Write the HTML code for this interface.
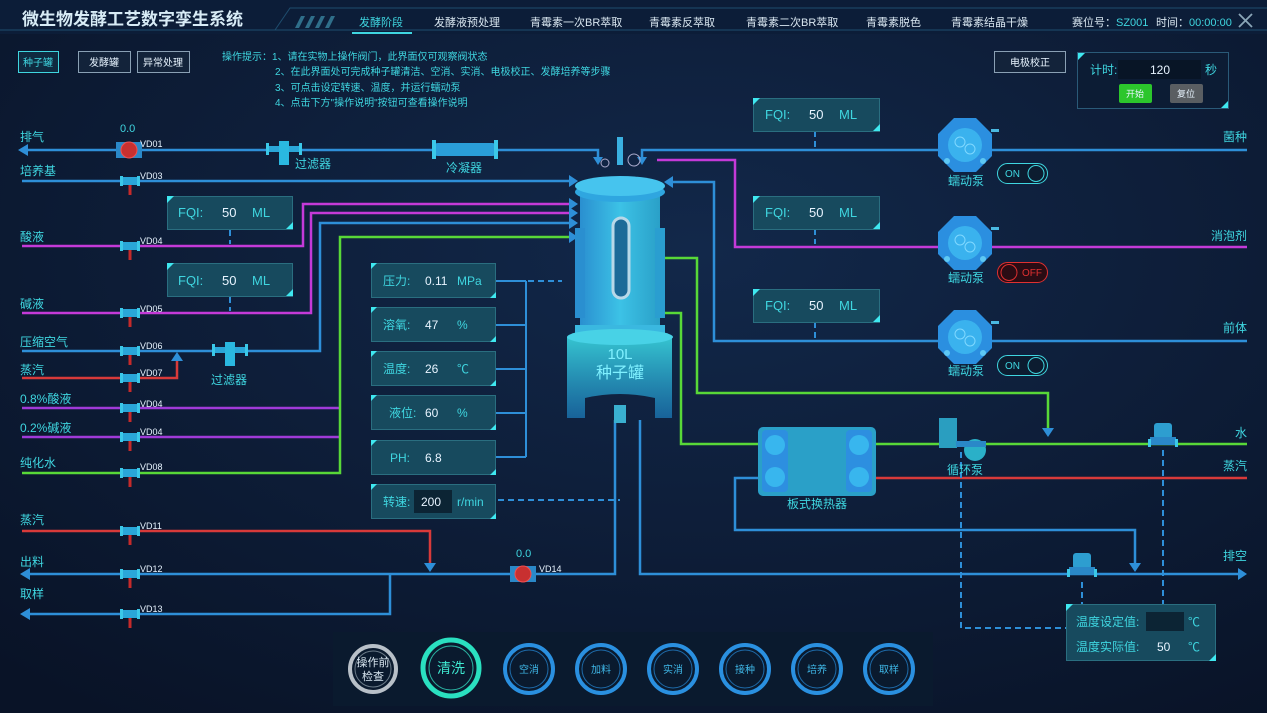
<!DOCTYPE html>
<html><head><meta charset="utf-8"><style>
html,body{margin:0;padding:0;background:#0a1630;}
svg{display:block;font-family:"Liberation Sans","Noto Sans CJK SC",sans-serif;}
.l{fill:#3fd6e0;font-size:12px}
.w{fill:#e8f4ff}
.vd{fill:#e8f4ff;font-size:9px}
.t{fill:#d8e6f0;font-size:11px}
</style></head><body>
<svg width="1267" height="713" viewBox="0 0 1267 713">
<defs>
<radialGradient id="bg" cx="0.55" cy="0.35" r="0.8"><stop offset="0" stop-color="#12284a"/><stop offset="1" stop-color="#091327"/></radialGradient>
<linearGradient id="tk" x1="0" x2="1"><stop offset="0" stop-color="#2a8fd0"/><stop offset="0.5" stop-color="#3cc2e6"/><stop offset="1" stop-color="#2aa0c8"/></linearGradient>
<linearGradient id="jk" x1="0" x2="0" y1="0" y2="1"><stop offset="0" stop-color="#3ad6e0" stop-opacity=".9"/><stop offset="1" stop-color="#1c7fc0" stop-opacity=".7"/></linearGradient>
<g id="v"><rect x="-9" y="-4" width="18" height="8" rx="2" fill="#2aa6d8"/><rect x="-10" y="-5" width="3" height="10" fill="#3bc8e8"/><rect x="7" y="-5" width="3" height="10" fill="#3bc8e8"/><rect x="-1.5" y="4" width="3" height="10" fill="#c62a2a"/></g>
<g id="pump"><polygon points="-11,-27 11,-27 27,-11 27,11 11,27 -11,27 -27,11 -27,-11" fill="#2b8fe0"/><circle r="17" fill="#3ab2ee"/><circle cx="-5" cy="-3" r="5" fill="none" stroke="#7fd8ff"/><circle cx="5" cy="4" r="5" fill="none" stroke="#7fd8ff"/><circle cx="-18" cy="16" r="3" fill="#5ec8f4"/><circle cx="18" cy="16" r="3" fill="#5ec8f4"/><rect x="26" y="-16" width="8" height="3" fill="#4ab8e0"/></g>
<g id="bv"><rect x="-9" y="-14" width="18" height="16" rx="3" fill="#2d9ed0"/><rect x="-13" y="0" width="26" height="8" fill="#2a88c8"/><rect x="-15" y="2" width="3" height="8" fill="#3bc8e8"/><rect x="12" y="2" width="3" height="8" fill="#3bc8e8"/></g>
<g id="flt"><rect x="-18" y="-4" width="36" height="6" fill="#2aa6d8"/><rect x="-18" y="-7" width="3" height="12" fill="#3bc8e8"/><rect x="15" y="-7" width="3" height="12" fill="#3bc8e8"/><rect x="-5" y="-9" width="10" height="24" fill="#2ab8e0"/></g>
</defs>
<rect width="1267" height="713" fill="url(#bg)"/>
<!-- header -->
<rect x="0" y="0" width="1267" height="34" fill="#0c1d38"/>
<path d="M0 30 H275 L290 8 H1267" fill="none" stroke="#1e4d6e"/>
<path d="M275 30 H1267" stroke="#1e4d6e"/>
<path d="M295 28 l6 -12 h4 l-6 12z M305 28 l6 -12 h4 l-6 12z M315 28 l6 -12 h4 l-6 12z M325 28 l6 -12 h4 l-6 12z" fill="#2f6f8a"/>
<text x="22" y="25" fill="#d8ecf6" font-size="17" font-weight="bold">微生物发酵工艺数字孪生系统</text>
<text x="359" y="26" fill="#3fd6e0" font-size="11">发酵阶段</text>
<rect x="352" y="32" width="60" height="2" fill="#3fd6e0"/>
<text x="434" y="26" class="t">发酵液预处理</text>
<text x="530" y="26" class="t">青霉素一次BR萃取</text>
<text x="649" y="26" class="t">青霉素反萃取</text>
<text x="746" y="26" class="t">青霉素二次BR萃取</text>
<text x="866" y="26" class="t">青霉素脱色</text>
<text x="951" y="26" class="t">青霉素结晶干燥</text>
<text x="1072" y="26" class="t">赛位号：<tspan fill="#3fd6e0">SZ001</tspan></text>
<text x="1156" y="26" class="t">时间：<tspan fill="#3fd6e0">00:00:00</tspan></text>
<path d="M1239 14 l13 13 M1252 14 l-13 13" stroke="#8aa6b8" stroke-width="1.8"/>
<!-- top-left buttons -->
<rect x="18.5" y="51.5" width="40" height="21" fill="#0f2a40" stroke="#3fd6e0"/><text x="38" y="66" fill="#3fd6e0" font-size="10" text-anchor="middle">种子罐</text>
<rect x="78.5" y="51.5" width="52" height="21" fill="#13233a" stroke="#8aa0b4"/><text x="104" y="66" class="w" font-size="10" text-anchor="middle">发酵罐</text>
<rect x="137.5" y="51.5" width="52" height="21" fill="#13233a" stroke="#8aa0b4"/><text x="163" y="66" class="w" font-size="10" text-anchor="middle">异常处理</text>
<g fill="#3fd6e0" font-size="10"><text x="222" y="60">操作提示：1、请在实物上操作阀门，此界面仅可观察阀状态</text>
<text x="275" y="75">2、在此界面处可完成种子罐清洁、空消、实消、电极校正、发酵培养等步骤</text>
<text x="275" y="91">3、可点击设定转速、温度，并运行蠕动泵</text>
<text x="275" y="106">4、点击下方"操作说明"按钮可查看操作说明</text></g>
<rect x="994.5" y="51.5" width="71" height="21" fill="#13233a" stroke="#8aa0b4"/><text x="1030" y="66" class="w" font-size="10" text-anchor="middle">电极校正</text>
<rect x="1077.5" y="52.5" width="151" height="56" fill="#0c1c34" stroke="#2a5a78"/>
<path d="M1078 53 h7 l-7 7z M1228 108 h-7 l7 -7z" fill="#3fe8f0"/>
<text x="1090" y="74" fill="#3fd6e0" font-size="12">计时:</text>
<rect x="1118" y="60" width="83" height="19" fill="#081526"/><text x="1160" y="74" class="w" font-size="12" text-anchor="middle">120</text>
<text x="1205" y="74" fill="#3fd6e0" font-size="12">秒</text>
<rect x="1119" y="84" width="33" height="19" rx="2" fill="#2cc62c"/><text x="1135" y="97" class="w" font-size="9" text-anchor="middle">开始</text>
<rect x="1170" y="84" width="33" height="19" rx="2" fill="#5a5e62"/><text x="1186" y="97" class="w" font-size="9" text-anchor="middle">复位</text>

<!-- pipes left -->
<g fill="none" stroke-width="2.5">
<path d="M24 150 H598 V160" stroke="#2e8fd8"/>
<path d="M22 181 H572" stroke="#2e8fd8"/>
<path d="M22 246 H303 V204 H572" stroke="#c43ad8"/>
<path d="M22 313 H311 V213 H572" stroke="#c43ad8"/>
<path d="M22 351 H320 V223 H572" stroke="#2e8fd8"/>
<path d="M22 378 H177 V358" stroke="#d83a3a"/>
<path d="M22 408 H340" stroke="#a03ad8"/>
<path d="M22 437 H340" stroke="#a03ad8"/>
<path d="M22 473 H340 V237 H572" stroke="#58d838"/>
<path d="M22 531 H430 V565" stroke="#d83a3a"/>
<path d="M26 574 H615 V420" stroke="#2e8fd8"/>
<path d="M26 614 H390 V574" stroke="#2e8fd8"/>
<path d="M640 420 V574 H1240" stroke="#2e8fd8"/>
<path d="M642 160 V150 H1247" stroke="#2e8fd8"/>
<path d="M657 160 H735 V247 H1247" stroke="#c43ad8"/>
<path d="M668 182 H714 V341 H1247" stroke="#2e8fd8"/>
<path d="M660 258 H697 V393 H1048 V430" stroke="#58d838"/>
<path d="M660 313 H681 V444 H760" stroke="#58d838"/>
<path d="M875 444 H1247" stroke="#58d838"/>
<path d="M875 478 H1247" stroke="#d83a3a"/>
<path d="M760 478 H735 V530 H1135 V565" stroke="#2e8fd8"/>
<path d="M496 281 H526 M496 325 H526 M496 369 H526 M496 413 H526 M496 457 H526 M526 281 V457" stroke="#2e8fd8" stroke-width="2"/>
</g>
<!-- arrows -->
<g fill="#2e8fd8">
<path d="M18 150 l10 -6 v12z M20 574 l10 -6 v12z M20 614 l10 -6 v12z"/>
<path d="M578 181 l-9 -6 v12z M578 204 l-9 -6 v12z M578 213 l-9 -6 v12z M578 223 l-9 -6 v12z M578 237 l-9 -6 v12z"/>
<path d="M664 182 l9 -6 v12z M1247 574 l-9 -6 v12z M1048 437 l-6 -9 h12z M1135 572 l-6 -9 h12z M430 572 l-6 -9 h12z M177 352 l-6 9 h12z M598 165 l-5 -8 h10z M642 165 l-5 -8 h10z"/>
</g>
<!-- dashed -->
<g stroke="#2e8fd8" stroke-width="2" stroke-dasharray="6 4" fill="none">
<path d="M498 281 H562 M498 500 H620"/>
<path d="M230 230 V244 M230 297 V311 M815 131 V147 M815 229 V244 M815 322 V338"/>
<path d="M961 452 V628 H1066 M1163 450 V604 M1082 582 V604"/>
</g>
<!-- valves left -->
<g><use href="#v" x="130" y="181"/><use href="#v" x="130" y="246"/><use href="#v" x="130" y="313"/><use href="#v" x="130" y="351"/><use href="#v" x="130" y="378"/><use href="#v" x="130" y="408"/><use href="#v" x="130" y="437"/><use href="#v" x="130" y="473"/><use href="#v" x="130" y="531"/><use href="#v" x="130" y="574"/><use href="#v" x="130" y="614"/></g>
<rect x="116" y="142" width="26" height="16" fill="#2a88c8"/><circle cx="129" cy="150" r="8" fill="#c83030" stroke="#f05050"/>
<rect x="510" y="566" width="26" height="16" fill="#2a88c8"/><circle cx="523" cy="574" r="8" fill="#c83030" stroke="#f05050"/>
<g class="vd"><text x="140" y="147">VD01</text><text x="140" y="179">VD03</text><text x="140" y="244">VD04</text><text x="140" y="312">VD05</text><text x="140" y="349">VD06</text><text x="140" y="376">VD07</text><text x="140" y="407">VD04</text><text x="140" y="435">VD04</text><text x="140" y="470">VD08</text><text x="140" y="529">VD11</text><text x="140" y="572">VD12</text><text x="140" y="612">VD13</text><text x="539" y="572">VD14</text></g>
<text x="120" y="132" fill="#3fd6e0" font-size="11">0.0</text><text x="516" y="557" fill="#3fd6e0" font-size="11">0.0</text>
<g class="l"><text x="20" y="141">排气</text><text x="20" y="175">培养基</text><text x="20" y="241">酸液</text><text x="20" y="308">碱液</text><text x="20" y="346">压缩空气</text><text x="20" y="374">蒸汽</text><text x="20" y="403">0.8%酸液</text><text x="20" y="432">0.2%碱液</text><text x="20" y="467">纯化水</text><text x="20" y="524">蒸汽</text><text x="20" y="566">出料</text><text x="20" y="598">取样</text>
<text x="1247" y="141" text-anchor="end">菌种</text><text x="1247" y="240" text-anchor="end">消泡剂</text><text x="1247" y="332" text-anchor="end">前体</text><text x="1247" y="437" text-anchor="end">水</text><text x="1247" y="470" text-anchor="end">蒸汽</text><text x="1247" y="560" text-anchor="end">排空</text>
<text x="295" y="168">过滤器</text><text x="446" y="172">冷凝器</text><text x="211" y="384">过滤器</text><text x="948" y="185">蠕动泵</text><text x="948" y="282">蠕动泵</text><text x="948" y="375">蠕动泵</text><text x="947" y="474">循环泵</text><text x="787" y="508">板式换热器</text></g>
<use href="#flt" x="284" y="150"/><use href="#flt" x="230" y="351"/>
<rect x="432" y="143" width="66" height="13" rx="6" fill="#2a9ed8"/><rect x="432" y="140" width="4" height="19" fill="#3bc8e8"/><rect x="494" y="140" width="4" height="19" fill="#3bc8e8"/>
<!-- FQI boxes -->
<g>
<g fill="#174a5e" stroke="#2a6e80"><path d="M167.5 196.5 H292.5 V229.5 H167.5Z"/><path d="M167.5 263.5 H292.5 V296.5 H167.5Z"/><path d="M753.5 98.5 H879.5 V131.5 H753.5Z"/><path d="M753.5 196.5 H879.5 V229.5 H753.5Z"/><path d="M753.5 289.5 H879.5 V322.5 H753.5Z"/></g>
<g fill="#3fe8f0"><path d="M167 196h7l-7 7z M293 229h-7l7-7z M167 263h7l-7 7z M293 296h-7l7-7z M753 98h7l-7 7z M880 131h-7l7-7z M753 196h7l-7 7z M880 229h-7l7-7z M753 289h7l-7 7z M880 322h-7l7-7z"/></g>
<g font-size="13"><text x="178" y="217" fill="#3fd6e0">FQI:</text><text x="222" y="217" class="w">50</text><text x="252" y="217" fill="#3fd6e0">ML</text>
<text x="178" y="285" fill="#3fd6e0">FQI:</text><text x="222" y="285" class="w">50</text><text x="252" y="285" fill="#3fd6e0">ML</text>
<text x="765" y="119" fill="#3fd6e0">FQI:</text><text x="809" y="119" class="w">50</text><text x="839" y="119" fill="#3fd6e0">ML</text>
<text x="765" y="217" fill="#3fd6e0">FQI:</text><text x="809" y="217" class="w">50</text><text x="839" y="217" fill="#3fd6e0">ML</text>
<text x="765" y="310" fill="#3fd6e0">FQI:</text><text x="809" y="310" class="w">50</text><text x="839" y="310" fill="#3fd6e0">ML</text></g>
</g>
<!-- sensor panels -->
<g fill="#174a5e" stroke="#2a6e80"><rect x="371.5" y="263.5" width="124" height="34"/><rect x="371.5" y="307.5" width="124" height="34"/><rect x="371.5" y="351.5" width="124" height="34"/><rect x="371.5" y="395.5" width="124" height="34"/><rect x="371.5" y="440.5" width="124" height="34"/><rect x="371.5" y="484.5" width="124" height="34"/></g>
<g fill="#3fe8f0"><path d="M371 263h6l-6 6z M496 298h-6l6-6z M371 307h6l-6 6z M496 342h-6l6-6z M371 351h6l-6 6z M496 386h-6l6-6z M371 395h6l-6 6z M496 430h-6l6-6z M371 440h6l-6 6z M496 475h-6l6-6z M371 484h6l-6 6z M496 519h-6l6-6z"/></g>
<rect x="414" y="490" width="38" height="23" fill="#0c2434"/>
<g font-size="12"><text x="383" y="285" fill="#3fd6e0">压力:</text><text x="425" y="285" class="w">0.11</text><text x="457" y="285" fill="#3fd6e0">MPa</text>
<text x="383" y="329" fill="#3fd6e0">溶氧:</text><text x="425" y="329" class="w">47</text><text x="457" y="329" fill="#3fd6e0">%</text>
<text x="383" y="373" fill="#3fd6e0">温度:</text><text x="425" y="373" class="w">26</text><text x="457" y="373" fill="#3fd6e0">℃</text>
<text x="389" y="417" fill="#3fd6e0">液位:</text><text x="425" y="417" class="w">60</text><text x="457" y="417" fill="#3fd6e0">%</text>
<text x="390" y="462" fill="#3fd6e0">PH:</text><text x="425" y="462" class="w">6.8</text>
<text x="383" y="506" fill="#3fd6e0">转速:</text><text x="421" y="506" class="w">200</text><text x="457" y="506" fill="#3fd6e0">r/min</text></g>
<!-- tank -->
<rect x="617" y="137" width="6" height="28" fill="#3ab0e0"/><circle cx="605" cy="163" r="4" fill="none" stroke="#aac"/><circle cx="634" cy="160" r="6" fill="none" stroke="#aac"/>
<rect x="580" y="190" width="80" height="135" fill="url(#tk)"/>
<rect x="575" y="228" width="10" height="90" fill="#2a8fd0"/><rect x="655" y="228" width="10" height="90" fill="#2a9ed0"/>
<ellipse cx="620" cy="192" rx="45" ry="10" fill="#2fa6e0"/><ellipse cx="620" cy="186" rx="45" ry="10" fill="#46c4ee"/>
<rect x="613" y="218" width="16" height="80" rx="8" fill="#1c6a98" stroke="#b8d8e8" stroke-width="3"/>
<rect x="575" y="325" width="90" height="8" fill="#3ab8e0"/>
<path d="M567 337 Q620 350 672 337 V418 H655 V398 Q620 390 585 398 V418 H567Z" fill="url(#jk)"/>
<ellipse cx="620" cy="337" rx="53" ry="8" fill="#48d2e6"/>
<rect x="614" y="405" width="12" height="18" fill="#3ab0d0"/>
<text x="620" y="359" text-anchor="middle" fill="#7ff0ff" font-size="15">10L</text>
<text x="620" y="378" text-anchor="middle" fill="#7ff0ff" font-size="16">种子罐</text>
<!-- pumps -->
<use href="#pump" x="965" y="145"/><use href="#pump" x="965" y="243"/><use href="#pump" x="965" y="337"/>
<g font-size="10"><rect x="997.5" y="163.5" width="50" height="20" rx="10" fill="#0c1c30" stroke="#3fd6e0"/><circle cx="1036" cy="173.5" r="8" fill="none" stroke="#3fd6e0"/><text x="1005" y="177" fill="#3fd6e0">ON</text>
<rect x="997.5" y="262.5" width="50" height="20" rx="10" fill="#2a0c14" stroke="#e03030"/><circle cx="1009" cy="272.5" r="8" fill="none" stroke="#e03030"/><text x="1022" y="276" fill="#e03030">OFF</text>
<rect x="997.5" y="355.5" width="50" height="20" rx="10" fill="#0c1c30" stroke="#3fd6e0"/><circle cx="1036" cy="365.5" r="8" fill="none" stroke="#3fd6e0"/><text x="1005" y="369" fill="#3fd6e0">ON</text></g>
<!-- exchanger -->
<rect x="758" y="427" width="118" height="69" rx="5" fill="#2aa0c8"/>
<rect x="762" y="430" width="26" height="62" rx="4" fill="#2d8fe0"/><rect x="846" y="430" width="26" height="62" rx="4" fill="#2d8fe0"/>
<circle cx="775" cy="445" r="10" fill="#38b6ee"/><circle cx="775" cy="477" r="10" fill="#38b6ee"/><circle cx="859" cy="445" r="10" fill="#38b6ee"/><circle cx="859" cy="477" r="10" fill="#38b6ee"/>
<!-- circ pump & valves -->
<rect x="939" y="418" width="18" height="30" fill="#2a9ec0"/><circle cx="975" cy="450" r="11" fill="#2ab0c8"/><rect x="956" y="441" width="30" height="6" fill="#2a88c8"/>
<use href="#bv" x="1163" y="437"/><use href="#bv" x="1082" y="567"/>
<!-- temp panel -->
<path d="M1066.5 604.5 H1215.5 V660.5 H1066.5Z" fill="#174a5e" stroke="#2a6e80"/>
<path d="M1066 604h7l-7 7z M1216 661h-7l7-7z" fill="#3fe8f0"/>
<rect x="1146" y="612" width="38" height="19" fill="#0c2434"/>
<g font-size="12"><text x="1076" y="626" fill="#3fd6e0">温度设定值:</text><text x="1188" y="626" fill="#3fd6e0">℃</text>
<text x="1076" y="651" fill="#3fd6e0">温度实际值:</text><text x="1157" y="651" class="w">50</text><text x="1188" y="651" fill="#3fd6e0">℃</text></g>
<!-- bottom bar -->
<rect x="333" y="632" width="600" height="74" fill="#0a1a2e"/>
<g fill="none"><circle cx="373" cy="669" r="23" stroke="#b8c0c8" stroke-width="4"/><circle cx="373" cy="669" r="18" stroke="#6a7a88"/>
<circle cx="451" cy="668" r="28" stroke="#2ae0c0" stroke-width="5"/><circle cx="451" cy="668" r="22" stroke="#2ab0a0"/>
<g stroke="#2a90e0" stroke-width="4"><circle cx="529" cy="669" r="24"/><circle cx="601" cy="669" r="24"/><circle cx="673" cy="669" r="24"/><circle cx="745" cy="669" r="24"/><circle cx="817" cy="669" r="24"/><circle cx="889" cy="669" r="24"/></g>
<g stroke="#1e6aa8"><circle cx="529" cy="669" r="19"/><circle cx="601" cy="669" r="19"/><circle cx="673" cy="669" r="19"/><circle cx="745" cy="669" r="19"/><circle cx="817" cy="669" r="19"/><circle cx="889" cy="669" r="19"/></g></g>
<g font-size="10" text-anchor="middle"><text x="373" y="666" class="t" font-size="10">操作前</text><text x="373" y="680" class="t" font-size="10">检查</text>
<text x="451" y="673" fill="#3fe8d0" font-size="14">清洗</text>
<g fill="#3fb8e8"><text x="529" y="673">空消</text><text x="601" y="673">加料</text><text x="673" y="673">实消</text><text x="745" y="673">接种</text><text x="817" y="673">培养</text><text x="889" y="673">取样</text></g></g>
</svg>
</body></html>
